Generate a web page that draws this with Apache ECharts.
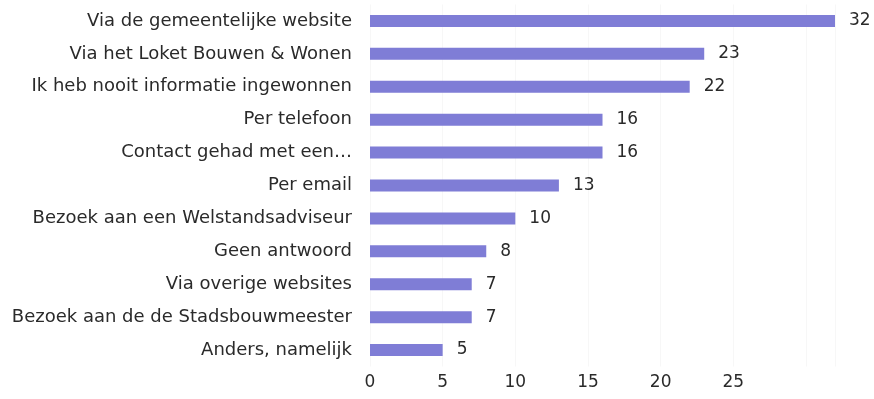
<!DOCTYPE html>
<html><head><meta charset="utf-8">
<script src="https://cdn.jsdelivr.net/npm/echarts@6/dist/echarts.min.js"></script>
<style>html,body{margin:0;padding:0;background:#fff}#c{width:874px;height:399px}</style>
</head><body><div id="c"></div>
<script>
const categories = [
  "Via de gemeentelijke website",
  "Via het Loket Bouwen & Wonen",
  "Ik heb nooit informatie ingewonnen",
  "Per telefoon",
  "Contact gehad met een…",
  "Per email",
  "Bezoek aan een Welstandsadviseur",
  "Geen antwoord",
  "Via overige websites",
  "Bezoek aan de de Stadsbouwmeester",
  "Anders, namelijk"
];
const values = [32, 23, 22, 16, 16, 13, 10, 8, 7, 7, 5];
const tickLabels = [0, 5, 10, 15, 20, 25];

const chart = echarts.init(document.getElementById('c'), null, {renderer: 'canvas'});
chart.setOption({
  animation: false,
  grid: {left: 370, right: 39, top: 4.5, bottom: 32.5, containLabel: false},
  xAxis: {
    type: 'value', min: 0, max: 32, interval: 5,
    axisLine: {show: false}, axisTick: {show: false},
    splitLine: {show: true, lineStyle: {color: '#f7f7f7', width: 1}},
    axisLabel: {
      color: '#2a2a2a', fontFamily: 'DejaVu Sans', fontSize: 17, margin: 8,
      formatter: v => tickLabels.includes(v) ? String(v) : ''
    }
  },
  yAxis: {
    type: 'category', data: categories, inverse: true,
    axisLine: {show: false}, axisTick: {show: false},
    axisLabel: {color: '#2a2a2a', fontFamily: 'DejaVu Sans', fontSize: 18, margin: 18}
  },
  series: [{
    type: 'bar', data: values, barWidth: 12,
    itemStyle: {color: '#7f7dd6'},
    label: {show: true, position: 'right', distance: 14, color: '#2a2a2a', fontFamily: 'DejaVu Sans', fontSize: 17}
  }]
});
</script></body></html>
